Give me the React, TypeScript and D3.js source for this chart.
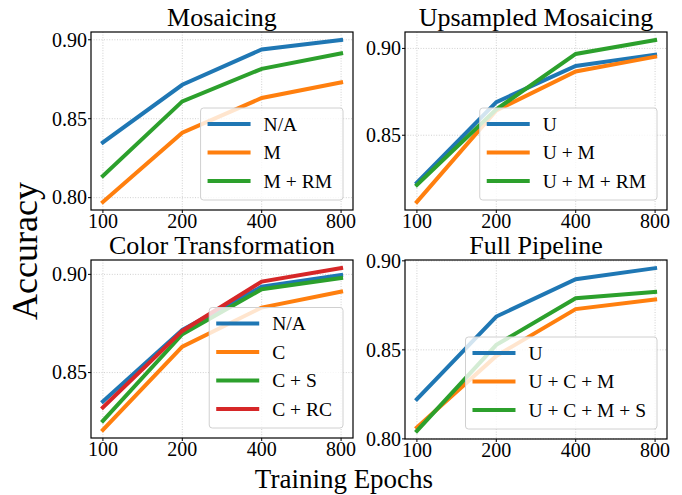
import React, { useEffect, useRef } from 'react';
import * as d3 from 'd3';

// x categories (training epochs)
const epochs = ['100', '200', '400', '800'];

// Mosaicing
const mosaicNA = [0.835, 0.8715, 0.8939, 0.8998];
const mosaicM = [0.7973, 0.8411, 0.8631, 0.873];
const mosaicMRM = [0.8138, 0.861, 0.8816, 0.8914];

// Upsampled Mosaicing
const upU = [0.8227, 0.8691, 0.8899, 0.8964];
const upUM = [0.8116, 0.8643, 0.8867, 0.8952];
const upUMRM = [0.8214, 0.8649, 0.8968, 0.9048];

// Color Transformation
const colorNA = [0.8353, 0.8717, 0.8937, 0.8997];
const colorC = [0.8208, 0.8632, 0.8831, 0.8912];
const colorCS = [0.8254, 0.8695, 0.8924, 0.8981];
const colorCRC = [0.8322, 0.8712, 0.8963, 0.9032];

// Full Pipeline
const fullU = [0.8223, 0.8687, 0.8897, 0.8959];
const fullUCM = [0.8064, 0.8466, 0.8729, 0.8783];
const fullUCMS = [0.8045, 0.8528, 0.879, 0.8826];

const titles = ['Mosaicing', 'Upsampled Mosaicing', 'Color Transformation', 'Full Pipeline'];
const labels = [
  ['N/A', 'M', 'M + RM'],
  ['U', 'U + M', 'U + M + RM'],
  ['N/A', 'C', 'C + S', 'C + RC'],
  ['U', 'U + C + M', 'U + C + M + S'],
];
const values = [
  [mosaicNA, mosaicM, mosaicMRM],
  [upU, upUM, upUMRM],
  [colorNA, colorC, colorCS, colorCRC],
  [fullU, fullUCM, fullUCMS],
];
const yTicks = [
  [0.8, 0.85, 0.9],
  [0.85, 0.9],
  [0.85, 0.9],
  [0.8, 0.85, 0.9],
];

const colors = ['#1f77b4', '#ff7f0e', '#2ca02c', '#d62728'];
const FONT = '"Liberation Serif", "Times New Roman", serif';

// panel boxes [left, top, right, bottom]
const boxes = [
  [91, 32, 353, 210],
  [405, 32, 667, 210],
  [91, 260, 353, 438],
  [405, 260, 667, 439],
];

const App = () => {
  const svgRef = useRef<SVGSVGElement | null>(null);

  useEffect(() => {
    const svg = d3.select(svgRef.current);
    svg.selectAll('*').remove();

    svg.append('rect').attr('width', 682).attr('height', 495).attr('fill', 'white');

    boxes.forEach(([l, t, r, b], i) => {
      const series = values[i];
      const all = series.flat();
      const lo = d3.min(all)!;
      const hi = d3.max(all)!;
      const span = hi - lo;

      const x = d3.scalePoint<string>().domain(epochs).range([l, r]).padding(0.15);
      const y = d3.scaleLinear().domain([lo - 0.05 * span, hi + 0.05 * span]).range([b, t]);

      const g = svg.append('g');

      // grid
      g.selectAll('.vg')
        .data(epochs)
        .enter().append('line')
        .attr('x1', d => x(d)!).attr('x2', d => x(d)!)
        .attr('y1', t).attr('y2', b)
        .attr('stroke', '#c4c4c4').attr('stroke-width', 0.8)
        .attr('stroke-dasharray', '1,1.6');
      g.selectAll('.hg')
        .data(yTicks[i])
        .enter().append('line')
        .attr('x1', l).attr('x2', r)
        .attr('y1', d => y(d)).attr('y2', d => y(d))
        .attr('stroke', '#c4c4c4').attr('stroke-width', 0.8)
        .attr('stroke-dasharray', '1,1.6');

      // lines
      const line = d3.line<number>()
        .x((_, j) => x(epochs[j])!)
        .y(d => y(d));
      series.forEach((s, k) => {
        g.append('path')
          .datum(s)
          .attr('fill', 'none')
          .attr('stroke', colors[k])
          .attr('stroke-width', 4)
          .attr('stroke-linecap', 'square')
          .attr('d', line);
      });

      // spines
      g.append('rect')
        .attr('x', l).attr('y', t)
        .attr('width', r - l).attr('height', b - t)
        .attr('fill', 'none').attr('stroke', 'black').attr('stroke-width', 1.2);

      // ticks
      g.selectAll('.xt')
        .data(epochs)
        .enter().append('line')
        .attr('x1', d => x(d)!).attr('x2', d => x(d)!)
        .attr('y1', b).attr('y2', b + 3)
        .attr('stroke', 'black').attr('stroke-width', 1);
      g.selectAll('.xl')
        .data(epochs)
        .enter().append('text')
        .attr('x', d => x(d)!).attr('y', b + 18)
        .attr('text-anchor', 'middle')
        .style('font-family', FONT).style('font-size', '20px')
        .text(d => d);
      g.selectAll('.yt')
        .data(yTicks[i])
        .enter().append('line')
        .attr('x1', l - 3).attr('x2', l)
        .attr('y1', d => y(d)).attr('y2', d => y(d))
        .attr('stroke', 'black').attr('stroke-width', 1);
      g.selectAll('.yl')
        .data(yTicks[i])
        .enter().append('text')
        .attr('x', l - 4).attr('y', d => y(d))
        .attr('dy', '0.34em')
        .attr('text-anchor', 'end')
        .style('font-family', FONT).style('font-size', '20px')
        .text(d => d3.format('.2f')(d));

      // title
      g.append('text')
        .attr('x', (l + r) / 2).attr('y', t - 6)
        .attr('text-anchor', 'middle')
        .style('font-family', FONT).style('font-size', '26px')
        .text(titles[i]);

      // legend (lower right)
      const rowH = 28.5;
      const n = labels[i].length;
      const leg = g.append('g');
      const frame = leg.append('rect')
        .attr('fill', 'white').attr('fill-opacity', 0.8)
        .attr('stroke', '#d0d0d0').attr('stroke-width', 1)
        .attr('rx', 3);
      const texts = labels[i].map((lab, k) =>
        leg.append('text')
          .attr('y', k * rowH)
          .attr('dy', '0.34em')
          .style('font-family', FONT).style('font-size', '19.5px')
          .text(lab)
      );
      const maxW = d3.max(texts, tx => (tx.node() as SVGTextElement).getComputedTextLength())!;
      const w = 7 + 43 + 13 + maxW + 11;
      const h = 16 + (n - 1) * rowH + 19;
      const bx = r - 10 - w;
      const by = b - 10 - h;
      frame.attr('x', bx).attr('y', by).attr('width', w).attr('height', h);
      labels[i].forEach((_, k) => {
        const cy = by + 16 + k * rowH;
        leg.append('line')
          .attr('x1', bx + 7).attr('x2', bx + 50)
          .attr('y1', cy).attr('y2', cy)
          .attr('stroke', colors[k]).attr('stroke-width', 4);
        texts[k].attr('x', bx + 63).attr('y', cy);
      });
    });

    // shared axis labels
    svg.append('text')
      .attr('x', 344).attr('y', 488)
      .attr('text-anchor', 'middle')
      .style('font-family', FONT).style('font-size', '27px')
      .text('Training Epochs');
    svg.append('text')
      .attr('transform', 'translate(37,251) rotate(-90)')
      .attr('text-anchor', 'middle')
      .style('font-family', FONT).style('font-size', '36px')
      .text('Accuracy');
  }, []);

  return (
    <svg
      ref={svgRef}
      width={682}
      height={495}
      style={{ position: 'absolute', left: 0, top: 0 }}
    />
  );
};

export default App;
